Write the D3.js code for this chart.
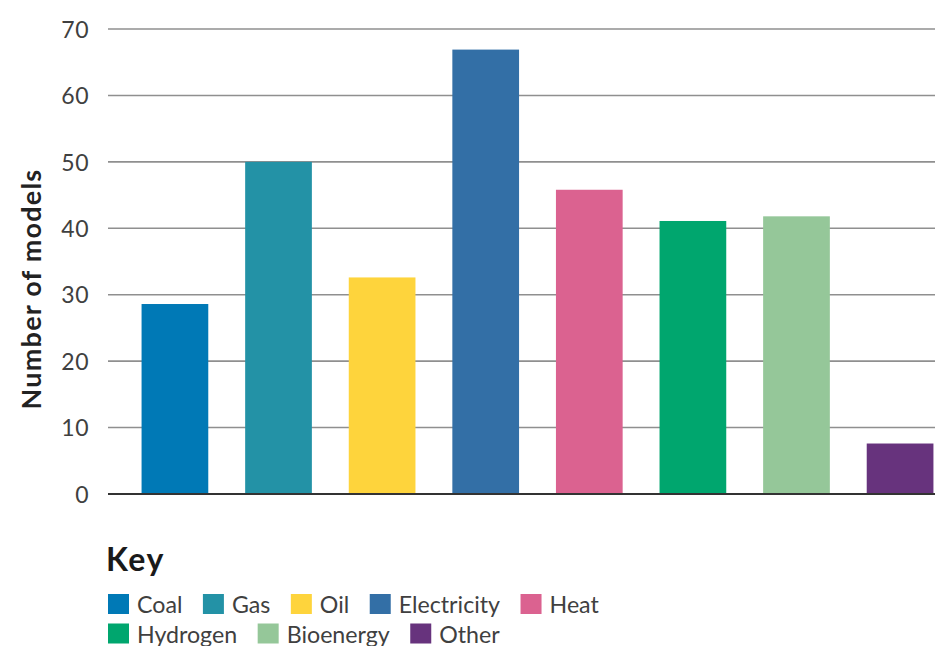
<!DOCTYPE html>
<html><head><meta charset="utf-8">
<script src="https://cdn.jsdelivr.net/npm/d3@7"></script>
<style>body{margin:0;background:#fff}svg{display:block}</style>
</head><body>
<script>
const categories = ["Coal","Gas","Oil","Electricity","Heat","Hydrogen","Bioenergy","Other"];
const values = [28.6, 50, 32.6, 66.9, 45.8, 41.1, 41.8, 7.6];
const colors = ["#0079b6","#2392a6","#fed43c","#336fa6","#db6290","#00a66e","#95c799","#67337d"];
const yTicks = [0,10,20,30,40,50,60,70];
const yTitle = "Number of models";
const keyTitle = "Key";
const legendRows = [["Coal","Gas","Oil","Electricity","Heat"],["Hydrogen","Bioenergy","Other"]];

const W = 935, H = 646;
const svg = d3.select("body").append("svg").attr("width", W).attr("height", H);
const font = "Lato, 'Open Sans', sans-serif";

const y = d3.scaleLinear().domain([0,70]).range([494, 29]);
const x = d3.scaleBand().domain(categories).range([108, 967]).paddingInner(0.356).paddingOuter(0.324);

// grid lines
svg.append("g").selectAll("line").data(yTicks.filter(t=>t>0)).join("line")
  .attr("x1", 108).attr("x2", W).attr("y1", d=>y(d)).attr("y2", d=>y(d))
  .attr("stroke", "#8f8f8f").attr("stroke-width", 1.6);

// y axis labels
const yAxis = d3.axisLeft(y).tickValues(yTicks).tickSize(0).tickPadding(0);
const ga = svg.append("g").attr("transform","translate(89,0)").call(yAxis);
ga.select(".domain").remove();
ga.selectAll("text").attr("font-family", font).attr("font-size", 23).attr("fill", "#404040")
  .attr("letter-spacing", 0.5).attr("dy","0.36em");

// bars
svg.append("g").selectAll("rect").data(values).join("rect")
  .attr("x", (d,i)=>x(categories[i])).attr("width", x.bandwidth())
  .attr("y", d=>y(d)).attr("height", d=>y(0)-y(d))
  .attr("fill", (d,i)=>colors[i]);

// baseline
svg.append("line").attr("x1",108).attr("x2",W).attr("y1",y(0)).attr("y2",y(0))
  .attr("stroke","#333").attr("stroke-width",2.2);

// y title
svg.append("text").attr("transform", `translate(41,${(168+410)/2}) rotate(-90)`)
  .attr("text-anchor","middle").attr("font-family", font).attr("font-weight", "bold")
  .attr("font-size", 27).attr("letter-spacing", 1.2).attr("fill","#222").text(yTitle);

// legend
svg.append("text").attr("x",106).attr("y",571).attr("font-family",font).attr("font-weight","bold")
  .attr("font-size",32).attr("letter-spacing",1.5).attr("fill","#1a1a1a").text(keyTitle);

const rowY = [594, 623.5];
legendRows.forEach((row, r) => {
  let cx = 108;
  row.forEach(name => {
    const i = categories.indexOf(name);
    const g = svg.append("g");
    g.append("rect").attr("x", cx).attr("y", rowY[r]).attr("width", 21).attr("height", 20).attr("fill", colors[i]);
    const t = g.append("text").attr("x", cx + 29).attr("y", rowY[r] + 19)
      .attr("font-family", font).attr("font-size", 23.2).attr("fill", "#404040").text(name);
    cx += 29 + t.node().getComputedTextLength() + 20.5;
  });
});
</script>
</body></html>
